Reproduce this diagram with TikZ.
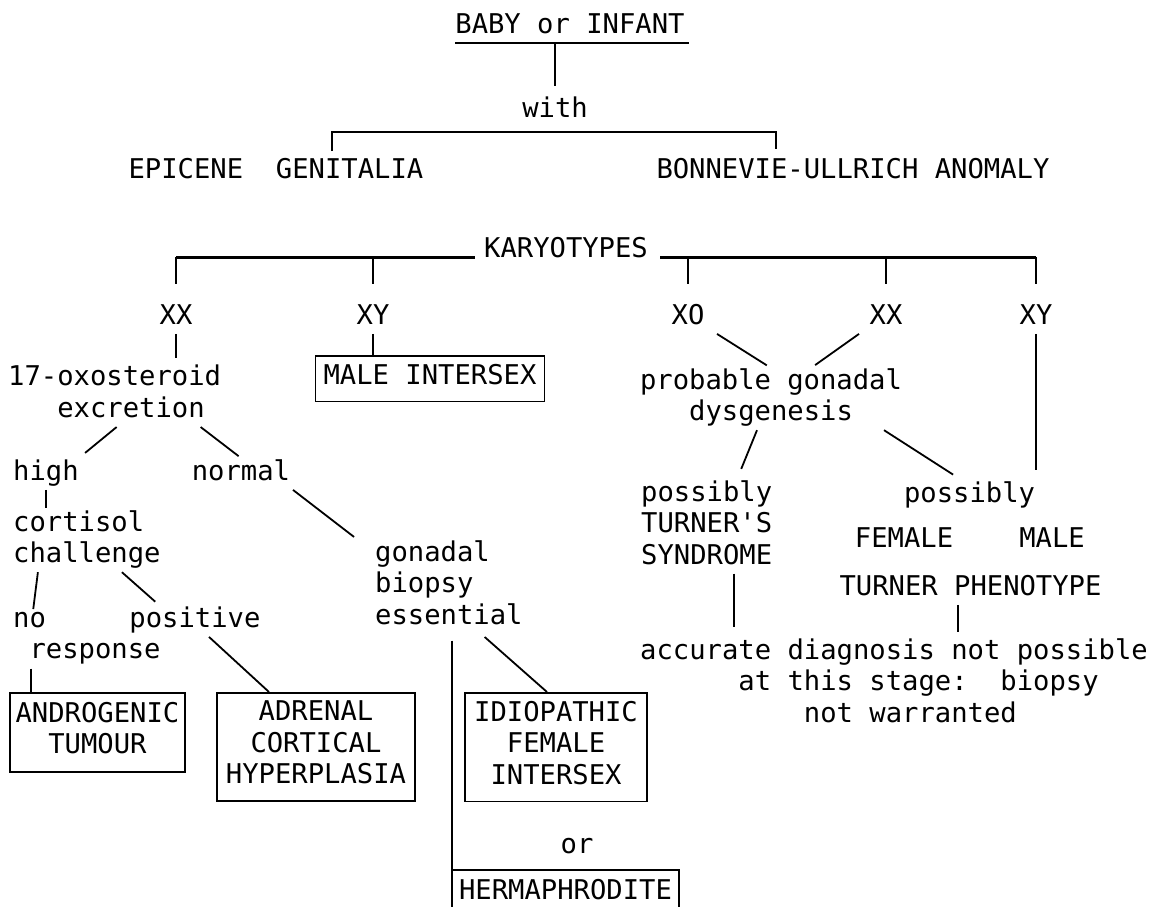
\documentclass[tikz,border=0pt]{standalone}
\usepackage{fontspec}
\newfontfamily\plotfont{DejaVu Sans Mono}
\usetikzlibrary{positioning,calc}
\frenchspacing
\begin{document}
\begin{tikzpicture}[x=1pt,y=-1pt,
    plain/.style={font={\plotfont\fontsize{27.2}{31.5}\selectfont},
                  inner sep=0pt, execute at begin node=\strut},
    txt/.style={plain, execute at end node=\strut},
    box/.style={plain, draw, line width=1.7pt, inner xsep=9pt, inner ysep=8pt},
    link/.style={line width=1.8pt},
    bar/.style={line width=2.8pt}]
\useasboundingbox (0,0) rectangle (1161,906);

% top of the chart
\node[txt, anchor=north] (baby) at (570,11) {BABY or INFANT};
\node[txt, anchor=north] (with) at (555,95) {with};
\node[txt, anchor=north] (epi) at (276,156) {EPICENE\ \ GENITALIA};
\node[txt, anchor=north] (bon) at (853,156) {BONNEVIE-ULLRICH ANOMALY};
\node[txt, anchor=north] (karyo) at (566,235) {KARYOTYPES};

\draw[bar] (baby.south west) -- ([xshift=4pt]baby.south east);
\draw[link, shorten >=9pt] (baby.south -| with.north) -- (with.north);
\draw[link] ([xshift=56pt,yshift=5pt]epi.north) -- ++(0,-19)
    -| ([xshift=-77pt,yshift=7pt]bon.north);

% karyotypes
\node[txt, anchor=north] (xxL) at (176,302) {XX};
\node[txt, anchor=north] (xyL) at (373,302) {XY};
\node[txt, anchor=north] (xo) at (688,302) {XO};
\node[txt, anchor=north] (xxR) at (886,302) {XX};
\node[txt, anchor=north] (xyR) at (1036,302) {XY};

\draw[bar] ([xshift=-9pt]karyo.base west) -- (karyo.base west -| xxL.north);
\draw[bar] ([xshift=12pt]karyo.base east) -- (karyo.base east -| xyR.north);
\draw[link, shorten >=18pt] (karyo.base -| xxL.north) -- (xxL.north);
\draw[link, shorten >=18pt] (karyo.base -| xyL.north) -- (xyL.north);
\draw[link, shorten >=18pt] (karyo.base -| xo.north) -- (xo.north);
\draw[link, shorten >=18pt] (karyo.base -| xxR.north) -- (xxR.north);
\draw[link, shorten >=18pt] (karyo.base -| xyR.north) -- (xyR.north);

% XX / XY branch
\node[txt, anchor=north west, align=left] (oxo) at (8,365) {17-oxosteroid\\\phantom{xxx}excretion};
\node[box, anchor=north, inner xsep=8pt, inner ysep=7pt] (male) at (430,355) {MALE INTERSEX};
\node[txt, anchor=north west] (high) at (13,458) {high};
\node[txt, anchor=north] (normal) at (241,458) {normal};
\node[txt, anchor=north west, align=left] (cort) at (13,510) {cortisol\\challenge};
\node[txt, anchor=north west, align=left] (noresp) at (13,612) {no\\\phantom{x}response};
\node[txt, anchor=north] (pos) at (195,605) {positive};
\node[txt, anchor=north west, align=left] (gonadal) at (375,540) {gonadal\\biopsy\\essential};
\node[box, anchor=north, align=center, inner xsep=5.5pt, inner ysep=9pt] (andro) at (97.5,692) {ANDROGENIC\\TUMOUR};
\node[box, anchor=north, align=center] (adrenal) at (316,692) {ADRENAL\\CORTICAL\\HYPERPLASIA};
\node[box, anchor=north, align=center] (idio) at (556,692) {IDIOPATHIC\\FEMALE\\INTERSEX};
\node[txt, anchor=north] (or) at (577,831) {or};
\node[plain, anchor=north, inner xsep=7pt, inner ysep=7pt] (herm) at (565.5,870) {HERMAPHRODITE};
\draw[line width=1.7pt] (herm.south west) |- (herm.north east) -- (herm.south east);

\draw[link, shorten >=7pt] (xxL.south) -- (xxL.south |- oxo.north);
\draw[link] (xyL.south) -- (xyL.south |- male.north);
\draw[link, shorten >=8pt] ([xshift=2pt]oxo.south) -- (high.north east);
\draw[link, shorten >=3pt] ([xshift=86pt]oxo.south) -- (normal.north);
\draw[link, shorten >=2pt] (high.south) -- (high.south |- cort.north);
\draw[link, shorten >=3pt] ([xshift=-49pt]cort.south) -- ([xshift=-54pt]noresp.north);
\draw[link, shorten >=5pt] ([xshift=35pt]cort.south) -- ([xshift=-36pt]pos.north);
\draw[link] ([xshift=-56pt]noresp.south) -- ([xshift=-56pt]noresp.south |- andro.north);
\draw[link] ([xshift=14pt]pos.south) -- ([xshift=-47pt]adrenal.north);
\draw[link, shorten >=5pt] ([xshift=52pt]normal.south) -- ([xshift=-17pt]gonadal.north west);
\draw[link, shorten <=7pt] (herm.north west |- gonadal.south) -- (herm.north west);
\draw[link, shorten <=5pt] ([xshift=32pt]gonadal.south) -- ([xshift=-9pt]idio.north);

% XO / XX / XY branch
\node[txt, anchor=north, align=center] (prob) at (771,368) {probable gonadal\\dysgenesis};
\node[txt, anchor=north west, align=left] (turner) at (641,480) {possibly\\TURNER'S\\SYNDROME};
\node[txt, anchor=north] (possR) at (969.5,480) {possibly};
\node[txt, anchor=north] (female) at (904,525) {FEMALE};
\node[txt, anchor=north] (maleR) at (1052,525) {MALE};
\node[txt, anchor=north] (phen) at (970.5,573) {TURNER PHENOTYPE};
\node[txt, anchor=north west, align=left] (acc) at (640,638) {accurate diagnosis not possible\\\phantom{xxxxxx}at this stage:\ \ biopsy\\\phantom{xxxxxxxxxx}not warranted};

\draw[link, shorten >=5pt] ([xshift=29pt]xo.south) -- (prob.north);
\draw[link, shorten >=5pt] ([xshift=-27pt]xxR.south) -- ([xshift=40pt]prob.north);
\draw[link, shorten >=12pt] ([xshift=-14pt]prob.south) -- ([xshift=30pt]turner.north);
\draw[link, shorten >=10pt] ([xshift=113pt]prob.south) -- ([xshift=-8pt]possR.north);
\draw[link, shorten >=10pt] (xyR.south) -- (xyR.south |- possR.north);
\draw[link, shorten >=11pt] ([xshift=27.5pt]turner.south) -- ([xshift=27.5pt]turner.south |- acc.north);
\draw[link, shorten >=6pt] ([xshift=-12.5pt]phen.south) -- ([xshift=-12.5pt]phen.south |- acc.north);
\end{tikzpicture}
\end{document}
